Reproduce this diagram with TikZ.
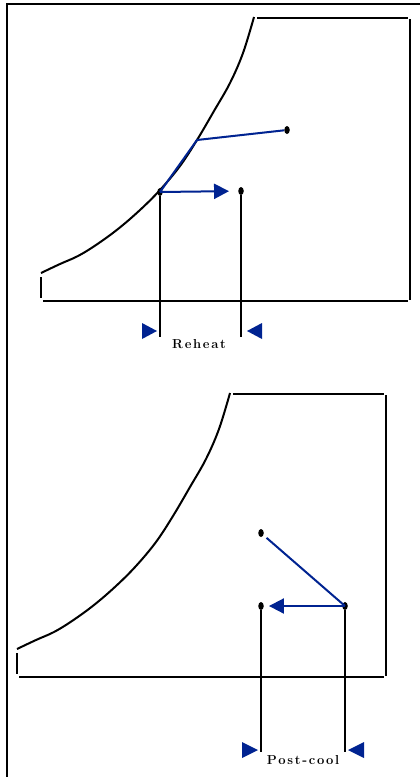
\documentclass[tikz,border=0pt]{standalone}
\usepackage{fontspec}
\usetikzlibrary{arrows.meta,shapes.geometric}
\definecolor{navy}{RGB}{0,35,145}
\newcommand\psyframe{%
  \draw[frame] (257,18) -- (408,18);
  \draw[frame] (410,19) -- (410,300);
  \draw[frame] (43,301) -- (408,301);
  \draw[frame] (41,277) -- (41,298);
  \draw[curve] plot[smooth,tension=0.6] coordinates {(41,273) (60,264) (78,256) (96,245) (118,229) (140,210) (160,190) (180,166) (197,140) (214,111) (230,83) (243,53) (254,17)};
}
\newcommand\lk{\kern1.7pt}
\begin{document}
\begin{tikzpicture}[x=1pt,y=-1pt,
  frame/.style={line width=2.6pt,black},
  curve/.style={line width=2pt,black},
  dot/.style={ellipse,fill=black,minimum width=5.5pt,minimum height=8pt,inner sep=0pt},
  proc/.style={line width=2pt,navy},
  procarrow/.style={line width=2pt,navy,-{Triangle[length=15pt,width=15pt]}},
  marker/.style={fill=navy},
  drop/.style={line width=2.6pt,black},
  lbl/.style={anchor=base,font=\bfseries\fontsize{13}{15}\selectfont}]
\useasboundingbox (0,0) rectangle (420,777);
% outer frame
\draw[frame] (7,777) -- (7,4) -- (420,4);
% ---------- top chart ----------
\psyframe
\node[dot] (a) at (160,192) {};
\node[dot] (b) at (287,130) {};
\node[dot] (c) at (241,191) {};
\coordinate (k) at (197,140);
\draw[proc] (a.center) -- (k) -- (b);
\draw[procarrow,shorten >=9pt] (a.center) -- (c);
\coordinate (a0) at (160,337);
\coordinate (c0) at (241,337);
\draw[drop] (a) -- (a0);
\draw[drop] (c) -- (c0);
\fill[marker] (142,323) -- (157,331) -- (142,339) -- cycle;
\fill[marker] (262,323) -- (247,331) -- (262,339) -- cycle;
\node[lbl] (rh) at (199,348) {R\lk e\lk h\lk e\lk a\lk t};
% ---------- bottom chart ----------
\begin{scope}[shift={(-24,376)}]
\psyframe
\end{scope}
\node[dot] (d) at (261,533) {};
\node[dot] (e) at (345,606) {};
\node[dot] (f) at (261,606) {};
\draw[proc,shorten <=4pt] (d) -- (e.center);
\draw[procarrow,shorten >=5pt] (e.center) -- (f);
\coordinate (f0) at (261,752);
\coordinate (e0) at (345,752);
\draw[drop] (f) -- (f0);
\draw[drop] (e) -- (e0);
\fill[marker] (242,742) -- (258,750) -- (242,758) -- cycle;
\fill[marker] (364,742) -- (348,750) -- (364,758) -- cycle;
\node[lbl] (pc) at (303,764) {P\lk o\lk s\lk t\lk -\lk c\lk o\lk o\lk l};
\end{tikzpicture}
\end{document}
